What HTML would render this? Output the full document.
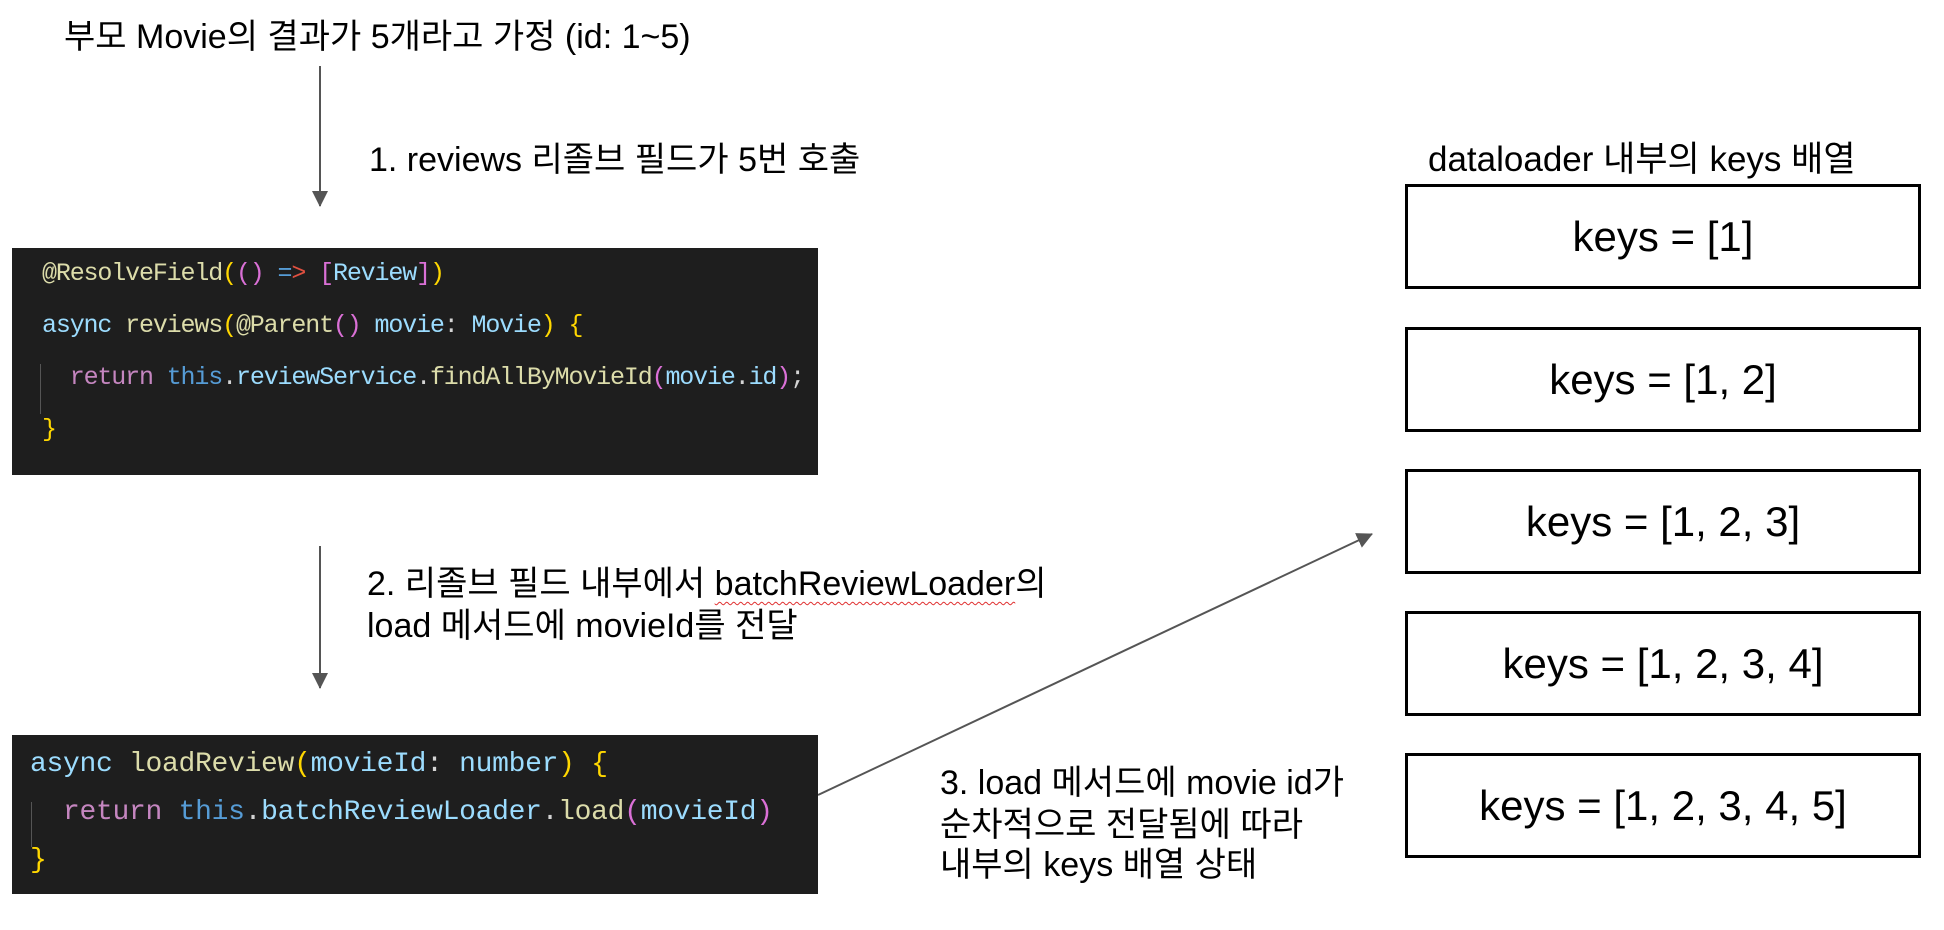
<!DOCTYPE html>
<html><head><meta charset="utf-8"><style>
body{margin:0;width:1944px;height:930px;background:#fff;position:relative;overflow:hidden;font-family:"Liberation Sans","Noto Sans CJK KR",sans-serif;color:#000}
.t{position:absolute;font-size:34px;line-height:40px;white-space:nowrap}
.code{position:absolute;background:#1e1e1e;left:12px;width:806px}
.code pre{position:absolute;margin:0;font-family:"Liberation Mono","DejaVu Sans Mono",monospace;white-space:pre;color:#9cdcfe}
.b1 pre{font-size:25px;letter-spacing:-1.15px;line-height:52px;left:30px;top:0}
.b2 pre{font-size:28px;letter-spacing:-0.3px;line-height:48px;left:18px;top:0}
.k{color:#9cdcfe}.f{color:#dcdcaa}.r{color:#c586c0}.th{color:#569cd6}.y{color:#ffd700}.p{color:#da70d6}.w{color:#d4d4d4}.red{color:#e05040}
.box{position:absolute;left:1405px;width:510px;height:99px;border:3px solid #000;font-size:42px;display:flex;align-items:center;justify-content:center}
.bar{position:absolute;width:1px;background:#555}
</style></head><body>
<div class="t" style="left:64px;top:17px">부모 Movie의 결과가 5개라고 가정 (id: 1~5)</div>
<div class="t" style="left:369px;top:140px">1. reviews 리졸브 필드가 5번 호출</div>
<div class="t" style="left:367px;top:564px">2. 리졸브 필드 내부에서 <span style="text-decoration:underline wavy #e03030;text-underline-offset:6px;text-decoration-thickness:1px">batchReviewLoader</span>의</div>
<div class="t" style="left:367px;top:606px">load 메서드에 movieId를 전달</div>
<div class="t" style="left:940px;top:763px">3. load 메서드에 movie id가</div>
<div class="t" style="left:940px;top:805px">순차적으로 전달됨에 따라</div>
<div class="t" style="left:940px;top:845px">내부의 keys 배열 상태</div>
<div class="t" style="left:1428px;top:140px;font-size:35px">dataloader 내부의 keys 배열</div>

<svg width="1944" height="930" style="position:absolute;left:0;top:0">
<defs><marker id="b" markerWidth="16" markerHeight="16" refX="15" refY="8" orient="auto" markerUnits="userSpaceOnUse"><path d="M0,0 L16,8 L0,16z" fill="#555"/></marker></defs>
<line x1="320" y1="66" x2="320" y2="206" stroke="#555" stroke-width="2" marker-end="url(#b)"/>
<line x1="320" y1="546" x2="320" y2="688" stroke="#555" stroke-width="2" marker-end="url(#b)"/>
<line x1="818" y1="795" x2="1372" y2="534" stroke="#555" stroke-width="2" marker-end="url(#b)"/>
</svg>

<div class="code b1" style="top:248px;height:227px">
<div class="bar" style="left:28px;top:116px;height:50px"></div>
<pre style="top:0"><span class="f">@ResolveField</span><span class="y">(</span><span class="p">()</span> <span class="th">=</span><span class="red">&gt;</span> <span class="p">[</span>Review<span class="p">]</span><span class="y">)</span>
<span class="k">async</span> <span class="f">reviews</span><span class="y">(</span><span class="f">@Parent</span><span class="p">()</span> movie<span class="w">:</span> Movie<span class="y">)</span> <span class="y">{</span>
  <span class="r">return</span> <span class="th">this</span><span class="w">.</span>reviewService<span class="w">.</span><span class="f">findAllByMovieId</span><span class="p">(</span>movie<span class="w">.</span>id<span class="p">)</span><span class="w">;</span>
<span class="y">}</span></pre>
</div>

<div class="code b2" style="top:735px;height:159px">
<div class="bar" style="left:19px;top:67px;height:45px"></div>
<pre style="top:6px"><span class="k">async</span> <span class="f">loadReview</span><span class="y">(</span>movieId<span class="w">:</span> number<span class="y">)</span> <span class="y">{</span>
  <span class="r">return</span> <span class="th">this</span><span class="w">.</span>batchReviewLoader<span class="w">.</span><span class="f">load</span><span class="p">(</span>movieId<span class="p">)</span>
<span class="y">}</span></pre>
</div>

<div class="box" style="top:184px">keys = [1]</div>
<div class="box" style="top:327px">keys = [1, 2]</div>
<div class="box" style="top:469px">keys = [1, 2, 3]</div>
<div class="box" style="top:611px">keys = [1, 2, 3, 4]</div>
<div class="box" style="top:753px">keys = [1, 2, 3, 4, 5]</div>
</body></html>
